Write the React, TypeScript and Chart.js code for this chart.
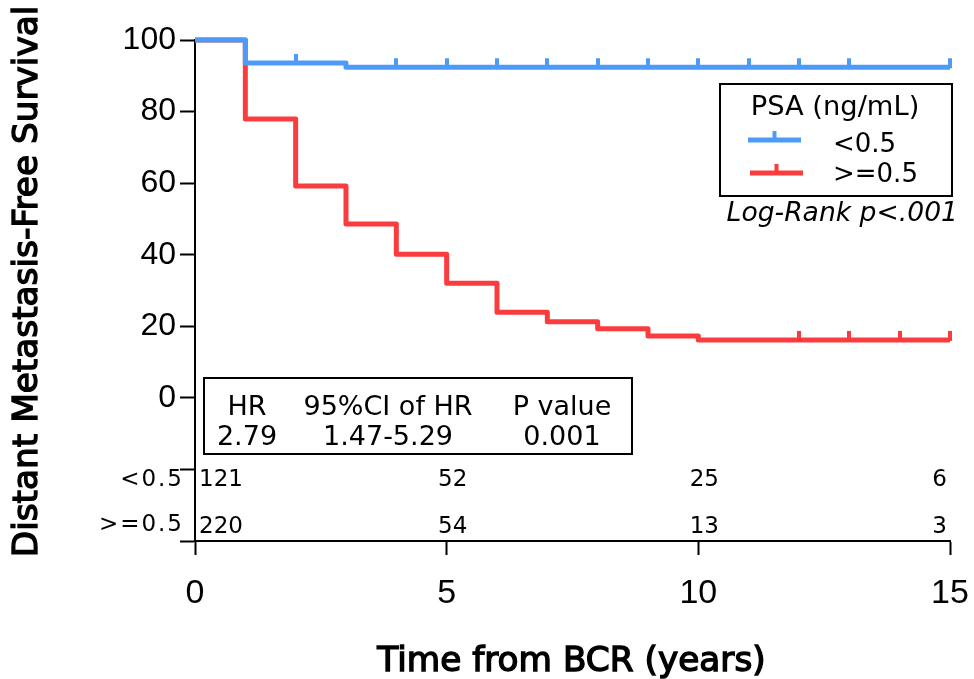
import React, { useEffect, useRef } from 'react';
import { Chart, registerables } from 'chart.js';
Chart.register(...registerables);

// ---- data ----
const blueTimes = [0, 1, 3, 15];
const blueSurv = [100, 93.6, 92.4, 92.4];
const redTimes = [0, 1, 2, 3, 4, 5, 6, 7, 8, 9, 10, 15];
const redSurv = [100, 77.9, 59.2, 48.6, 40.1, 32.0, 23.9, 21.3, 19.3, 17.3, 16.2, 16.2];
const blueCensor = [2, 4, 5, 6, 7, 8, 9, 10, 11, 12, 13, 15];
const redCensor = [12, 13, 14, 15];
const riskTimes = [0, 5, 10, 15];
const riskLow = [121, 52, 25, 6];
const riskHigh = [220, 54, 13, 3];
const groupLabels = ['<0.5', '>=0.5'];
const legendTitle = 'PSA (ng/mL)';
const hrHeaders = ['HR', '95%CI of HR', 'P value'];
const hrValues = ['2.79', '1.47-5.29', '0.001'];
const logRankText = 'Log-Rank p<.001';
const xTitle = 'Time from BCR (years)';
const yTitle = 'Distant Metastasis-Free Survival';

const BLUE = '#4E9BF7';
const RED = '#FB3C3E';
const DV = '"DejaVu Sans", "Noto Sans", sans-serif';
const HV = '"Liberation Sans", Arial, sans-serif';

function survAt(times: number[], surv: number[], t: number) {
  let v = surv[0];
  for (let i = 0; i < times.length; i++) if (times[i] <= t) v = surv[i];
  return v;
}

function tickMark(color: string) {
  const c = document.createElement('canvas');
  c.width = 4;
  c.height = 22;
  const g = c.getContext('2d')!;
  g.fillStyle = color;
  g.fillRect(0, 2, 4, 10);
  return c;
}

const annotations = {
  id: 'annotations',
  afterDraw(chart: any) {
    const { ctx } = chart;
    const x = chart.scales.x;
    ctx.save();
    ctx.fillStyle = '#000';
    ctx.strokeStyle = '#000';

    // axis titles
    ctx.font = `34.3px ${DV}`;
    ctx.lineWidth = 1.4;
    ctx.textAlign = 'center';
    ctx.textBaseline = 'alphabetic';
    const cx = (x.left + x.right) / 2 - 1;
    ctx.fillText(xTitle, cx, 671);
    ctx.strokeText(xTitle, cx, 671);
    ctx.save();
    ctx.translate(36.5, 281.5);
    ctx.rotate(-Math.PI / 2);
    ctx.fillText(yTitle, 0, 0);
    ctx.strokeText(yTitle, 0, 0);
    ctx.restore();

    // numbers at risk
    ctx.font = `23px ${DV}`;
    const rows = [riskLow, riskHigh];
    const rowBase = [486, 533];
    rows.forEach((row, r) => {
      row.forEach((n, i) => {
        const px = x.getPixelForValue(riskTimes[i]);
        if (i === 0) {
          ctx.textAlign = 'left';
          ctx.fillText(String(n), px + 4, rowBase[r]);
        } else if (i === row.length - 1) {
          ctx.textAlign = 'right';
          ctx.fillText(String(n), px - 3, rowBase[r]);
        } else {
          ctx.textAlign = 'center';
          ctx.fillText(String(n), px + 6, rowBase[r]);
        }
      });
    });
    // group labels
    ctx.font = `23px ${DV}`;
    (ctx as any).letterSpacing = '2px';
    ctx.textAlign = 'right';
    ctx.fillText(groupLabels[0], 184, 486);
    ctx.fillText(groupLabels[1], 184, 531);
    (ctx as any).letterSpacing = '0px';

    // HR box
    ctx.lineWidth = 2;
    ctx.strokeRect(204, 378, 428, 76);
    ctx.font = `27px ${DV}`;
    ctx.textAlign = 'center';
    const colC = [247, 388, 562];
    hrHeaders.forEach((h, i) => ctx.fillText(h, colC[i], 415));
    hrValues.forEach((h, i) => ctx.fillText(h, colC[i], 445));

    // legend box
    ctx.strokeRect(720, 84, 232, 112);
    ctx.font = `27.3px ${DV}`;
    ctx.textAlign = 'center';
    ctx.fillText(legendTitle, 835, 115);
    ctx.font = `26px ${DV}`;
    ctx.textAlign = 'left';
    ctx.fillText(groupLabels[0], 833, 152);
    ctx.fillText(groupLabels[1], 833, 182);
    const drawLegLine = (color: string, x0: number, x1: number, ly: number) => {
      ctx.strokeStyle = color;
      ctx.fillStyle = color;
      ctx.lineWidth = 5;
      ctx.beginPath();
      ctx.moveTo(x0, ly);
      ctx.lineTo(x1, ly);
      ctx.stroke();
      const mx = (x0 + x1) / 2;
      ctx.fillRect(mx - 2, ly - 9, 4, 9);
    };
    drawLegLine(BLUE, 748, 801, 140);
    drawLegLine(RED, 750, 803, 173);

    // log-rank
    ctx.fillStyle = '#000';
    ctx.font = `italic 26.6px ${DV}`;
    ctx.textAlign = 'right';
    ctx.fillText(logRankText, 958, 221);
    ctx.restore();
  },
};

export default function App() {
  const ref = useRef<HTMLCanvasElement>(null);
  useEffect(() => {
    const blueLine = blueTimes.map((t, i) => ({ x: t, y: blueSurv[i] }));
    const redLine = redTimes.map((t, i) => ({ x: t, y: redSurv[i] }));
    const blueC = blueCensor.map((t) => ({ x: t, y: survAt(blueTimes, blueSurv, t) }));
    const redC = redCensor.map((t) => ({ x: t, y: survAt(redTimes, redSurv, t) }));
    const lineCommon = {
      stepped: 'before' as const,
      borderWidth: 5,
      pointRadius: 0,
      borderJoinStyle: 'round' as const,
      borderCapStyle: 'butt' as const,
      fill: false,
      clip: false as any,
    };
    const chart = new Chart(ref.current!, {
      type: 'line',
      data: {
        datasets: [
          { data: blueC, showLine: false, pointStyle: tickMark(BLUE) as any, pointRadius: 3, clip: false as any },
          { ...lineCommon, data: blueLine, borderColor: BLUE },
          { data: redC, showLine: false, pointStyle: tickMark(RED) as any, pointRadius: 3, clip: false as any },
          { ...lineCommon, data: redLine, borderColor: RED },
        ] as any,
      },
      options: {
        animation: false,
        responsive: false,
        devicePixelRatio: 1,
        events: [],
        layout: { padding: { left: 0, top: 40, right: 24, bottom: 0 } },
        plugins: { legend: { display: false }, tooltip: { enabled: false } },
        scales: {
          x: {
            type: 'linear',
            min: 0,
            max: 15,
            ticks: { stepSize: 5, color: '#000', font: { family: HV, size: 34 }, padding: 18, maxRotation: 0 },
            grid: { drawOnChartArea: false, drawTicks: true, tickLength: 14, tickWidth: 2, tickColor: '#000' },
            border: { color: '#000', width: 2 },
            afterFit: (s: any) => {
              s.height = 138;
              s.paddingLeft = 0;
              s.paddingRight = 0;
            },
          },
          y: {
            type: 'linear',
            min: -40,
            max: 100,
            ticks: {
              stepSize: 20,
              color: '#000',
              font: { family: HV, size: 32 },
              padding: 4,
              callback: (v: any) => (Number(v) >= 0 ? String(v) : ''),
            },
            grid: { drawOnChartArea: false, drawTicks: true, tickLength: 15, tickWidth: 2, tickColor: '#000' },
            border: { color: '#000', width: 2 },
            afterFit: (s: any) => {
              s.width = 195;
              s.paddingTop = 0;
              s.paddingBottom = 0;
            },
          },
        },
      } as any,
      plugins: [annotations],
    });
    return () => chart.destroy();
  }, []);
  return (
    <div style={{ position: 'fixed', left: 0, top: 0, width: 974, height: 679, background: '#fff' }}>
      <canvas ref={ref} width={974} height={679} style={{ display: 'block' }} />
    </div>
  );
}
